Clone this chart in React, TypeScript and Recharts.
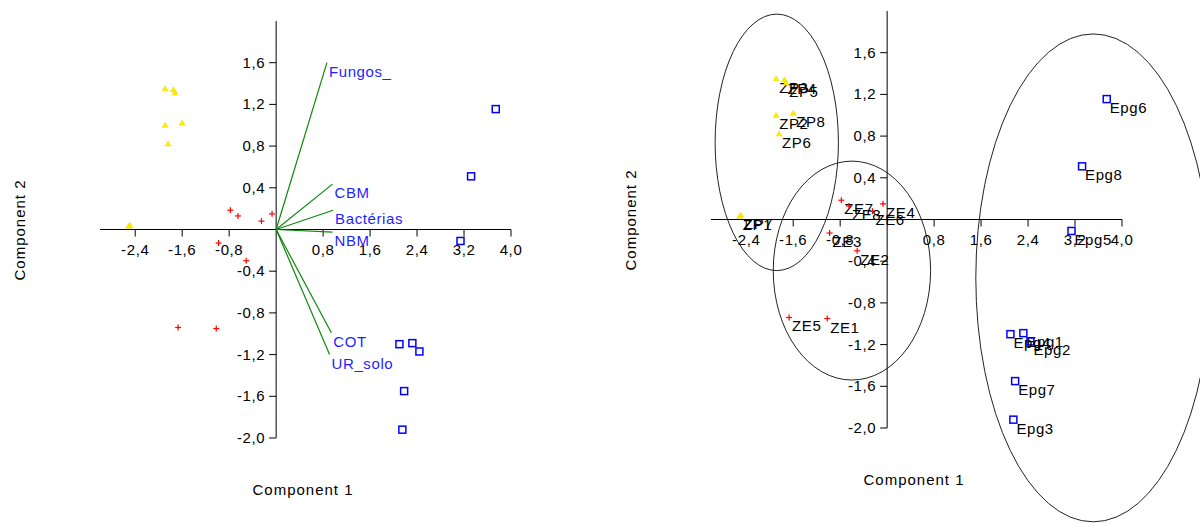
import React from 'react';
import { ScatterChart, Scatter, XAxis, YAxis, ReferenceLine, ReferenceArea } from 'recharts';

const FONT = '"Liberation Sans", Arial, sans-serif';

// ---- Data ----
const zpNames = ['ZP1', 'ZP2', 'ZP3', 'ZP4', 'ZP5', 'ZP6', 'ZP7', 'ZP8'];
const zpX = [-2.51, -1.89, -1.89, -1.75, -1.72, -1.84, -2.49, -1.60];
const zpY = [0.03, 1.0, 1.35, 1.34, 1.31, 0.82, 0.04, 1.02];

const zeNames = ['ZE1', 'ZE2', 'ZE3', 'ZE4', 'ZE5', 'ZE6', 'ZE7', 'ZE8'];
const zeX = [-1.02, -0.51, -0.98, -0.07, -1.67, -0.25, -0.78, -0.65];
const zeY = [-0.95, -0.3, -0.13, 0.15, -0.94, 0.08, 0.185, 0.13];

const epgNames = ['Epg1', 'Epg2', 'Epg3', 'Epg4', 'Epg5', 'Epg6', 'Epg7', 'Epg8'];
const epgX = [2.32, 2.44, 2.15, 2.1, 3.14, 3.74, 2.18, 3.32];
const epgY = [-1.09, -1.17, -1.92, -1.1, -0.11, 1.155, -1.55, 0.51];

const vecNames = ['Fungos_', 'CBM', 'Bactérias', 'NBM', 'COT', 'UR_solo'];
const vecX = [0.865, 0.96, 0.97, 0.96, 0.94, 0.91];
const vecY = [1.6, 0.435, 0.185, -0.025, -0.99, -1.2];

const xTickValues = [-2.4, -1.6, -0.8, 0.8, 1.6, 2.4, 3.2, 4.0];
const xTickLabels = ['-2,4', '-1,6', '-0,8', '0,8', '1,6', '2,4', '3,2', '4,0'];
const yTickValues = [1.6, 1.2, 0.8, 0.4, -0.4, -0.8, -1.2, -1.6, -2.0];
const yTickLabels = ['1,6', '1,2', '0,8', '0,4', '-0,4', '-0,8', '-1,2', '-1,6', '-2,0'];

const ellipseCX = [-1.88, -0.6, 3.51];
const ellipseCY = [0.74, -0.49, -0.56];
const ellipseRX = [1.05, 1.34, 2.0];
const ellipseRY = [1.23, 1.05, 2.34];

const X_DOMAIN: [number, number] = [-3, 4];
const Y_DOMAIN: [number, number] = [-2, 2];

// ---- Built tables ----
const zpData = zpNames.map((n, i) => ({ x: zpX[i], y: zpY[i], name: n }));
const zeData = zeNames.map((n, i) => ({ x: zeX[i], y: zeY[i], name: n }));
const epgData = epgNames.map((n, i) => ({ x: epgX[i], y: epgY[i], name: n }));
const xTickData = xTickValues.map((v, i) => ({ x: v, y: 0, label: xTickLabels[i] }));
const yTickData = yTickValues.map((v, i) => ({ x: 0, y: v, label: yTickLabels[i] }));

// ---- Shapes ----
const XTick = (p: any) => (
  <g>
    <line x1={p.cx} y1={p.cy} x2={p.cx} y2={p.cy + 7} stroke="#000" strokeWidth={1} />
    <text x={p.cx} y={p.cy + 25} textAnchor="middle" fontSize={15} letterSpacing={0.6} fontFamily={FONT} fill="#000">
      {p.payload.label}
    </text>
  </g>
);

const YTick = (p: any) => (
  <g>
    <line x1={p.cx - 7} y1={p.cy} x2={p.cx} y2={p.cy} stroke="#000" strokeWidth={1} />
    <text x={p.cx - 11} y={p.cy + 5} textAnchor="end" fontSize={15} letterSpacing={0.6} fontFamily={FONT} fill="#000">
      {p.payload.label}
    </text>
  </g>
);

const Tri = ({ cx, cy }: any) => (
  <polygon points={`${cx},${cy - 3} ${cx - 3},${cy + 2} ${cx + 3},${cy + 2}`} fill="#ffee00" stroke="#e8d800" strokeWidth={0.5} />
);
const Plus = ({ cx, cy }: any) => (
  <g stroke="#ff0000" strokeWidth={1.2}>
    <line x1={cx - 3} y1={cy} x2={cx + 3} y2={cy} />
    <line x1={cx} y1={cy - 3} x2={cx} y2={cy + 3} />
  </g>
);
const Sq = ({ cx, cy }: any) => (
  <rect x={cx - 3.5} y={cy - 3.5} width={7} height={7} fill="none" stroke="#0000ff" strokeWidth={1.5} />
);

const withLabel = (Marker: any) => (p: any) => (
  <g>
    <Marker cx={p.cx} cy={p.cy} />
    <text x={p.cx + 3} y={p.cy + 14} fontSize={15} letterSpacing={0.6} fontFamily={FONT} fill="#000">
      {p.payload.name}
    </text>
  </g>
);

const VecEnd = (p: any) =>
  p.payload.label ? (
    <text x={p.cx + 2} y={p.cy + 14} fontSize={15} letterSpacing={0.6} fontFamily={FONT} fill="#1f1fff">
      {p.payload.label}
    </text>
  ) : (
    <g />
  );

const EllipseShape = (p: any) => (
  <ellipse
    cx={p.x + p.width / 2}
    cy={p.y + p.height / 2}
    rx={Math.abs(p.width) / 2}
    ry={Math.abs(p.height) / 2}
    fill="none"
    stroke="#222"
    strokeWidth={1}
  />
);

const axes = [
  <XAxis key="xa" type="number" dataKey="x" domain={X_DOMAIN} hide />,
  <YAxis key="ya" type="number" dataKey="y" domain={Y_DOMAIN} hide />,
  <ReferenceLine key="rx" y={0} stroke="#000" strokeWidth={1} />,
  <ReferenceLine key="ry" x={0} stroke="#000" strokeWidth={1} />,
  <Scatter key="xt" data={xTickData} shape={XTick} isAnimationActive={false} />,
  <Scatter key="yt" data={yTickData} shape={YTick} isAnimationActive={false} />,
];

const titleStyle: React.CSSProperties = {
  position: 'absolute',
  fontFamily: FONT,
  fontSize: 15,
  letterSpacing: 1,
  color: '#000',
  whiteSpace: 'nowrap',
  transform: 'translate(-50%, -50%)',
};

export default function App() {
  return (
    <div style={{ position: 'absolute', left: 0, top: 0, width: 1200, height: 524, background: '#fff', overflow: 'hidden' }}>
      <div style={{ position: 'absolute', left: 0, top: 0 }}>
        <ScatterChart width={600} height={524} margin={{ left: 100, right: 89, top: 21, bottom: 86 }}>
          {axes}
          {vecNames.map((n, i) => (
            <Scatter
              key={n}
              data={[
                { x: 0, y: 0, label: '' },
                { x: vecX[i], y: vecY[i], label: n },
              ]}
              line={{ stroke: '#0a8a0a', strokeWidth: 1.2 }}
              shape={VecEnd}
              isAnimationActive={false}
            />
          ))}
          <Scatter data={zpData} shape={Tri} isAnimationActive={false} />
          <Scatter data={zeData} shape={Plus} isAnimationActive={false} />
          <Scatter data={epgData} shape={Sq} isAnimationActive={false} />
        </ScatterChart>
      </div>
      <div style={{ position: 'absolute', left: 600, top: 0 }}>
        <ScatterChart width={600} height={524} margin={{ left: 111, right: 78, top: 11, bottom: 96 }}>
          {axes}
          {ellipseCX.map((c, i) => (
            <ReferenceArea
              key={'e' + i}
              x1={c - ellipseRX[i]}
              x2={c + ellipseRX[i]}
              y1={ellipseCY[i] - ellipseRY[i]}
              y2={ellipseCY[i] + ellipseRY[i]}
              ifOverflow="visible"
              shape={EllipseShape}
            />
          ))}
          <Scatter data={zpData} shape={withLabel(Tri)} isAnimationActive={false} />
          <Scatter data={zeData} shape={withLabel(Plus)} isAnimationActive={false} />
          <Scatter data={epgData} shape={withLabel(Sq)} isAnimationActive={false} />
        </ScatterChart>
      </div>
      <div style={{ ...titleStyle, left: 303, top: 489 }}>Component 1</div>
      <div style={{ ...titleStyle, left: 19, top: 230, transform: 'translate(-50%, -50%) rotate(-90deg)' }}>Component 2</div>
      <div style={{ ...titleStyle, left: 914, top: 479 }}>Component 1</div>
      <div style={{ ...titleStyle, left: 630, top: 220, transform: 'translate(-50%, -50%) rotate(-90deg)' }}>Component 2</div>
    </div>
  );
}
